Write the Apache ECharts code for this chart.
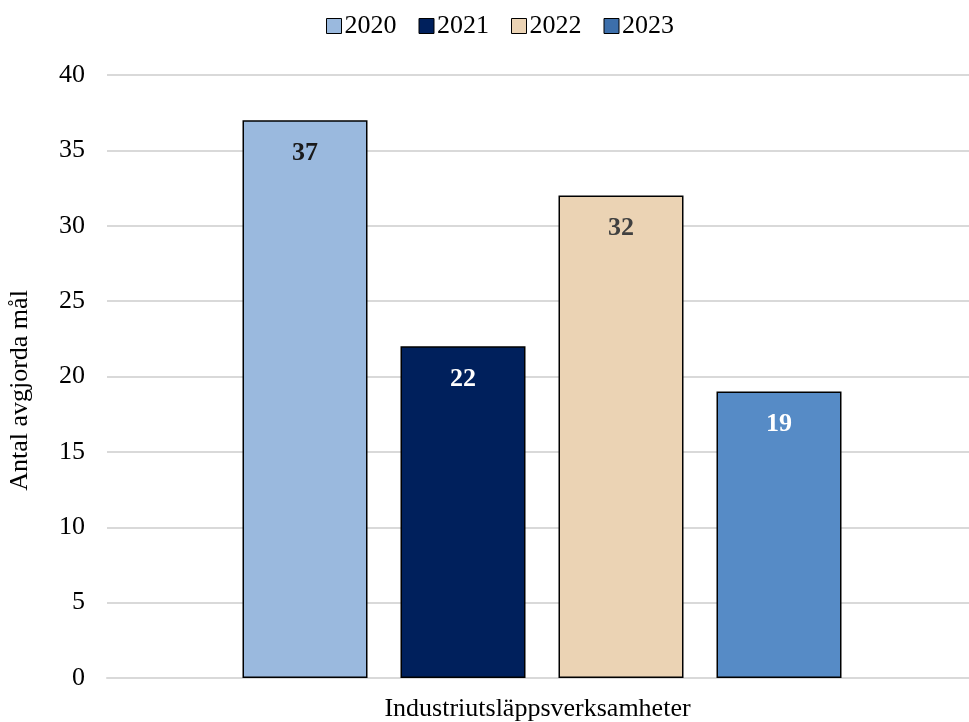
<!DOCTYPE html>
<html>
<head>
<meta charset="utf-8">
<script src="https://cdn.jsdelivr.net/npm/echarts@6/dist/echarts.min.js"></script>
<style>html,body{margin:0;padding:0;background:#fff}#c{width:969px;height:722px}</style>
</head>
<body>
<div id="c"></div>
<script>
const categories = ['Industriutsläppsverksamheter'];
const seriesNames = ['2020', '2021', '2022', '2023'];
const values2020 = [37];
const values2021 = [22];
const values2022 = [32];
const values2023 = [19];
const yTicks = [0, 5, 10, 15, 20, 25, 30, 35, 40];

const allValues = [values2020, values2021, values2022, values2023];
const colors = ['#9ab9de', '#00205c', '#ebd3b4', '#568bc6'];
const legendColors = ['#9ab9de', '#00205c', '#ebd3b4', '#3d6fab'];
const labelColors = ['#1a1a1a', '#ffffff', '#404040', '#ffffff'];
const FONT = '"Liberation Serif", "Times New Roman", serif';

const chart = echarts.init(document.getElementById('c'));
chart.setOption({
  animation: false,
  textStyle: { fontFamily: FONT },
  legend: {
    top: 13, left: 326, padding: 0,
    itemWidth: 15, itemHeight: 15, itemGap: 22,
    icon: 'rect',
    textStyle: { fontFamily: FONT, fontSize: 26, color: '#000', padding: [0, 0, 0, -2] },
    data: seriesNames.map((n, i) => ({ name: n, itemStyle: { color: legendColors[i], borderColor: '#000', borderWidth: 1 } }))
  },
  grid: { left: 107, width: 870, top: 75, height: 603, containLabel: false, outerBoundsMode: 'none' },
  xAxis: {
    type: 'category', data: categories,
    axisLine: { lineStyle: { color: '#d9d9d9', width: 2 } },
    axisTick: { show: false },
    axisLabel: { fontFamily: FONT, fontSize: 26, color: '#000', margin: 18, padding: [0, 9, 0, 0] }
  },
  yAxis: {
    type: 'value', min: yTicks[0], max: yTicks[yTicks.length - 1], interval: 5,
    name: 'Antal avgjorda mål', nameLocation: 'middle', nameGap: 74,
    nameTextStyle: { fontFamily: FONT, fontSize: 26, color: '#000', padding: [0, 28, 0, 0] },
    axisLine: { show: false }, axisTick: { show: false },
    splitLine: { lineStyle: { color: '#d9d9d9', width: 2 } },
    axisLabel: { fontFamily: FONT, fontSize: 26, color: '#000', margin: 22 }
  },
  series: seriesNames.map((n, i) => ({
    name: n, type: 'bar', data: allValues[i],
    barWidth: 125, barGap: '26.4%',
    itemStyle: { color: colors[i], borderColor: '#000', borderWidth: 1.5 },
    label: {
      show: true, position: 'insideTop', distance: 20,
      fontFamily: FONT, fontSize: 26, fontWeight: 'bold', color: labelColors[i]
    }
  }))
});
</script>
</body>
</html>
